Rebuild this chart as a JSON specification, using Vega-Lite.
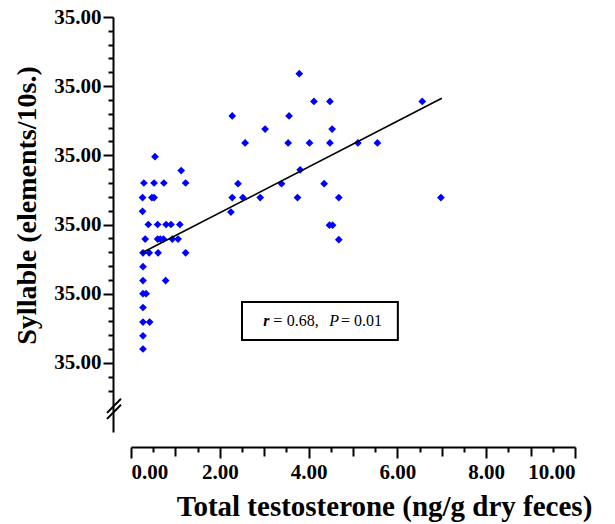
{
  "$schema": "https://vega.github.io/schema/vega-lite/v6.json",
  "autosize": {"type": "none"},
  "width": 444,
  "height": 415,
  "padding": {"left": 131, "top": 17, "right": 40, "bottom": 92},
  "config": {
    "view": {"stroke": null}
  },
  "datasets": {
    "points": [
      {"testosterone": 0.54, "syllable": 3.98},
      {"testosterone": 1.13, "syllable": 3.78},
      {"testosterone": 0.29, "syllable": 3.60},
      {"testosterone": 0.52, "syllable": 3.60},
      {"testosterone": 0.74, "syllable": 3.60},
      {"testosterone": 1.23, "syllable": 3.60},
      {"testosterone": 0.26, "syllable": 3.39},
      {"testosterone": 0.47, "syllable": 3.39},
      {"testosterone": 0.52, "syllable": 3.39},
      {"testosterone": 0.26, "syllable": 3.19},
      {"testosterone": 0.39, "syllable": 3.00},
      {"testosterone": 0.60, "syllable": 3.00},
      {"testosterone": 0.79, "syllable": 3.00},
      {"testosterone": 0.90, "syllable": 3.00},
      {"testosterone": 1.10, "syllable": 3.00},
      {"testosterone": 0.32, "syllable": 2.79},
      {"testosterone": 0.60, "syllable": 2.79},
      {"testosterone": 0.66, "syllable": 2.79},
      {"testosterone": 0.73, "syllable": 2.79},
      {"testosterone": 0.93, "syllable": 2.79},
      {"testosterone": 1.06, "syllable": 2.79},
      {"testosterone": 0.27, "syllable": 2.59},
      {"testosterone": 0.41, "syllable": 2.59},
      {"testosterone": 0.61, "syllable": 2.59},
      {"testosterone": 1.23, "syllable": 2.59},
      {"testosterone": 0.27, "syllable": 2.39},
      {"testosterone": 0.27, "syllable": 2.19},
      {"testosterone": 0.78, "syllable": 2.19},
      {"testosterone": 0.27, "syllable": 2.00},
      {"testosterone": 0.34, "syllable": 2.00},
      {"testosterone": 0.27, "syllable": 1.80},
      {"testosterone": 0.27, "syllable": 1.59},
      {"testosterone": 0.42, "syllable": 1.59},
      {"testosterone": 0.27, "syllable": 1.39},
      {"testosterone": 0.27, "syllable": 1.20},
      {"testosterone": 3.79, "syllable": 5.18},
      {"testosterone": 4.12, "syllable": 4.78},
      {"testosterone": 4.48, "syllable": 4.78},
      {"testosterone": 6.56, "syllable": 4.78},
      {"testosterone": 2.28, "syllable": 4.57},
      {"testosterone": 3.56, "syllable": 4.57},
      {"testosterone": 3.02, "syllable": 4.38},
      {"testosterone": 4.53, "syllable": 4.38},
      {"testosterone": 2.57, "syllable": 4.18},
      {"testosterone": 3.54, "syllable": 4.18},
      {"testosterone": 4.02, "syllable": 4.18},
      {"testosterone": 4.48, "syllable": 4.18},
      {"testosterone": 5.11, "syllable": 4.18},
      {"testosterone": 5.55, "syllable": 4.18},
      {"testosterone": 3.81, "syllable": 3.79},
      {"testosterone": 2.41, "syllable": 3.59},
      {"testosterone": 3.39, "syllable": 3.59},
      {"testosterone": 4.35, "syllable": 3.59},
      {"testosterone": 2.28, "syllable": 3.39},
      {"testosterone": 2.52, "syllable": 3.39},
      {"testosterone": 2.91, "syllable": 3.39},
      {"testosterone": 3.75, "syllable": 3.39},
      {"testosterone": 4.68, "syllable": 3.39},
      {"testosterone": 6.98, "syllable": 3.39},
      {"testosterone": 2.25, "syllable": 3.18},
      {"testosterone": 4.47, "syllable": 2.99},
      {"testosterone": 4.54, "syllable": 2.99},
      {"testosterone": 4.68, "syllable": 2.78}
    ],
    "fit": [
      {"testosterone": 0.26, "syllable": 2.594},
      {"testosterone": 7.0, "syllable": 4.825}
    ]
  },
  "resolve": {
    "scale": {"x": "shared", "y": "shared"},
    "axis": {"x": "independent", "y": "independent"}
  },
  "layer": [
    {
      "data": {"name": "points"},
      "mark": {"type": "point", "shape": "diamond", "filled": true, "color": "#0000ff", "size": 60, "opacity": 1},
      "encoding": {
        "x": {
          "field": "testosterone",
          "type": "quantitative",
          "scale": {"domain": [0, 10]},
          "axis": {
            "orient": "bottom",
            "offset": 15,
            "zindex": 1,
            "grid": false,
            "values": [0, 2, 4, 6, 8, 10],
            "tickSize": 11,
            "tickColor": "#000000",
            "tickWidth": 2,
            "domainColor": "#000000",
            "domainWidth": 2,
            "format": ".2f",
            "labelPadding": 3,
            "labelColor": "#000000",
            "labelFont": "Liberation Serif",
            "labelFontWeight": "bold",
            "labelFontSize": 21,
            "title": "Total testosterone (ng/g dry feces)",
            "titleColor": "#000000",
            "titleFont": "Liberation Serif",
            "titleFontWeight": "bold",
            "titleFontSize": 29,
            "titleX": 253,
            "titleY": 68,
            "titleAlign": "center",
            "titleBaseline": "alphabetic"
          }
        },
        "y": {
          "field": "syllable",
          "type": "quantitative",
          "scale": {"domain": [0, 6]},
          "axis": {
            "orient": "left",
            "offset": 18,
            "zindex": 1,
            "grid": false,
            "values": [1, 2, 3, 4, 5, 6],
            "tickSize": 10,
            "tickColor": "#000000",
            "tickWidth": 2,
            "domainColor": "#000000",
            "domainWidth": 2,
            "labelExpr": "'35.00'",
            "labelPadding": 2,
            "labelColor": "#000000",
            "labelFont": "Liberation Serif",
            "labelFontWeight": "bold",
            "labelFontSize": 21,
            "title": "Syllable (elements/10s.)",
            "titleColor": "#000000",
            "titleFont": "Liberation Serif",
            "titleFontWeight": "bold",
            "titleFontSize": 28,
            "titleAngle": -90,
            "titleX": -78,
            "titleY": 188,
            "titleAlign": "center",
            "titleBaseline": "alphabetic"
          }
        }
      }
    },
    {
      "data": {"name": "fit"},
      "mark": {"type": "line", "color": "black", "strokeWidth": 1.6},
      "encoding": {
        "x": {
          "field": "testosterone",
          "type": "quantitative",
          "axis": {
            "orient": "bottom",
            "offset": 15,
            "zindex": 1,
            "grid": false,
            "values": [1, 3, 5, 7, 9],
            "tickSize": 9,
            "tickColor": "#000000",
            "tickWidth": 2,
            "labels": false,
            "domain": false,
            "title": null
          }
        },
        "y": {
          "field": "syllable",
          "type": "quantitative",
          "axis": {
            "orient": "left",
            "offset": 18,
            "zindex": 1,
            "grid": false,
            "values": [0.6, 0.8, 1.2, 1.4, 1.6, 1.8, 2.2, 2.4, 2.6, 2.8, 3.2, 3.4, 3.6, 3.8, 4.2, 4.4, 4.6, 4.8, 5.2, 5.4, 5.6, 5.8],
            "tickSize": 5,
            "tickColor": "#000000",
            "tickWidth": 2,
            "labels": false,
            "domain": false,
            "title": null
          }
        }
      }
    },
    {
      "data": {"values": [{}]},
      "mark": {"type": "rule", "color": "black", "strokeWidth": 2},
      "encoding": {
        "x": {"datum": -0.54, "axis": null},
        "x2": {"datum": -0.225},
        "y": {"datum": 0.277, "axis": null},
        "y2": {"datum": 0.48}
      }
    },
    {
      "data": {"values": [{}]},
      "mark": {"type": "rule", "color": "black", "strokeWidth": 2},
      "encoding": {
        "x": {"datum": -0.54, "axis": null},
        "x2": {"datum": -0.225},
        "y": {"datum": 0.19, "axis": null},
        "y2": {"datum": 0.393}
      }
    },
    {
      "data": {"values": [{}]},
      "mark": {"type": "rect", "fill": "white", "stroke": "black", "strokeWidth": 2},
      "encoding": {
        "x": {
          "datum": 2.5,
          "axis": {
            "orient": "bottom",
            "offset": 15,
            "zindex": 1,
            "grid": false,
            "values": [0.5, 1.5, 2.5, 3.5, 4.5, 5.5, 6.5, 7.5, 8.5, 9.5],
            "tickSize": 5,
            "tickColor": "#000000",
            "tickWidth": 2,
            "labels": false,
            "domain": false,
            "title": null
          }
        },
        "x2": {"datum": 6.01},
        "y": {"datum": 1.88, "axis": null},
        "y2": {"datum": 1.33}
      }
    },
    {
      "data": {"values": [{}]},
      "mark": {"type": "text", "text": "r", "font": "Liberation Serif", "fontStyle": "italic", "fontWeight": "bold", "fontSize": 16, "align": "left", "baseline": "alphabetic", "color": "black"},
      "encoding": {"x": {"datum": 2.98, "axis": null}, "y": {"datum": 1.535, "axis": null}}
    },
    {
      "data": {"values": [{}]},
      "mark": {"type": "text", "text": "=", "font": "Liberation Serif", "fontSize": 16, "align": "left", "baseline": "alphabetic", "color": "black"},
      "encoding": {"x": {"datum": 3.205, "axis": null}, "y": {"datum": 1.535, "axis": null}}
    },
    {
      "data": {"values": [{}]},
      "mark": {"type": "text", "text": "0.68,", "font": "Liberation Serif", "fontSize": 16, "align": "left", "baseline": "alphabetic", "color": "black"},
      "encoding": {"x": {"datum": 3.507, "axis": null}, "y": {"datum": 1.535, "axis": null}}
    },
    {
      "data": {"values": [{}]},
      "mark": {"type": "text", "text": "P", "font": "Liberation Serif", "fontStyle": "italic", "fontSize": 16, "align": "left", "baseline": "alphabetic", "color": "black"},
      "encoding": {"x": {"datum": 4.466, "axis": null}, "y": {"datum": 1.535, "axis": null}}
    },
    {
      "data": {"values": [{}]},
      "mark": {"type": "text", "text": "=", "font": "Liberation Serif", "fontSize": 16, "align": "left", "baseline": "alphabetic", "color": "black"},
      "encoding": {"x": {"datum": 4.73, "axis": null}, "y": {"datum": 1.535, "axis": null}}
    },
    {
      "data": {"values": [{}]},
      "mark": {"type": "text", "text": "0.01", "font": "Liberation Serif", "fontSize": 16, "align": "left", "baseline": "alphabetic", "color": "black"},
      "encoding": {"x": {"datum": 5.023, "axis": null}, "y": {"datum": 1.535, "axis": null}}
    }
  ]
}
